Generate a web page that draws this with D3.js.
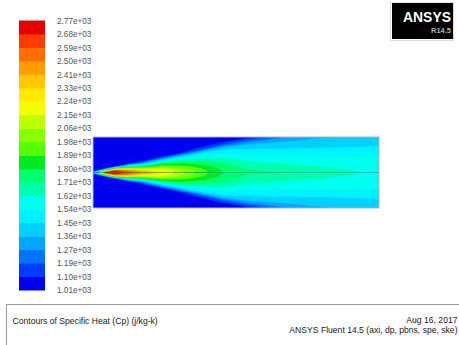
<!DOCTYPE html>
<html><head><meta charset="utf-8">
<script src="https://cdn.jsdelivr.net/npm/d3@7"></script>
<style>html,body{margin:0;padding:0;background:#fff;overflow:hidden}</style>
</head><body>
<script>
// ---- data ----
const levelLabels = ["1.01e+03","1.10e+03","1.19e+03","1.27e+03","1.36e+03","1.45e+03","1.54e+03",
  "1.62e+03","1.71e+03","1.80e+03","1.89e+03","1.98e+03","2.06e+03","2.15e+03","2.24e+03",
  "2.33e+03","2.41e+03","2.50e+03","2.59e+03","2.68e+03","2.77e+03"];
// axial stations (mm from inlet) and radial stations (mm from axis)
const xStations = [0, 5, 12, 22, 35, 50, 70, 90, 110, 130, 155, 185, 220, 255, 286];
const rStations = [0, 2, 4, 6, 9, 12, 16, 20, 24, 28, 32, 35.5];
// Cp (J/kg-K): one radial profile per axial station
const cpProfiles = [
  [1300,1050,1030,1030,1030,1030,1030,1030,1030,1030,1030,1030],
  [2000,1150,1030,1030,1030,1030,1030,1030,1030,1030,1030,1030],
  [2720,1900,1050,1030,1030,1030,1030,1030,1030,1030,1030,1030],
  [2760,2620,1850,1080,1030,1030,1030,1030,1030,1030,1030,1030],
  [2620,2500,2050,1620,1050,1030,1030,1030,1030,1030,1030,1030],
  [2450,2350,2050,1780,1350,1050,1030,1030,1030,1030,1030,1030],
  [2260,2220,2120,1970,1750,1480,1100,1030,1030,1030,1030,1030],
  [2070,2050,2000,1920,1800,1660,1450,1100,1030,1030,1030,1030],
  [1920,1910,1880,1840,1770,1680,1560,1440,1140,1030,1030,1030],
  [1800,1790,1770,1750,1710,1660,1590,1510,1420,1180,1030,1030],
  [1750,1712,1690,1670,1640,1610,1560,1500,1440,1360,1200,1070],
  [1720,1670,1650,1640,1622,1590,1550,1500,1450,1400,1330,1240],
  [1670,1640,1630,1622,1600,1580,1548,1500,1455,1420,1380,1340],
  [1630,1622,1615,1610,1590,1570,1546,1500,1460,1430,1400,1370],
  [1610,1605,1600,1595,1580,1560,1545,1510,1470,1440,1420,1400]
];
const titleText = "Contours of Specific Heat (Cp) (j/kg-k)";
const dateText = "Aug 16, 2017";
const solverText = "ANSYS Fluent 14.5 (axi, dp, pbns, spe, ske)";

// ---- style ----
const bandColors = ["#0000f0","#003cff","#0073ff","#00a6ff","#00d0ff","#00f2ff","#00ffee","#00ffaa",
  "#00ff6a","#00ea20","#55ff00","#88ff00","#bbff00","#f2ff00","#ffea00","#ffc800","#ff9d00",
  "#ff6e00","#ff3c00","#e60000"];
const FONT = "'Liberation Sans', Arial, Helvetica, sans-serif";

const W = 459, H = 345;
const svg = d3.select("body").append("svg").attr("width", W).attr("height", H)
  .style("display","block").style("background","#fff");

const thresholds = levelLabels.slice(0, 20).map(Number);

// ---- colour bar ----
const barX0 = 19, barX1 = 45;
const yIdx = d3.scaleLinear().domain([0, 20]).range([290, 20.5]);
svg.append("g").selectAll("rect").data(bandColors).join("rect")
  .attr("x", barX0).attr("width", barX1 - barX0)
  .attr("y", (d, i) => yIdx(i + 1)).attr("height", (d, i) => yIdx(i) - yIdx(i + 1) + 0.5)
  .attr("fill", d => d);
const barAxis = d3.axisRight(yIdx).tickValues(d3.range(21))
  .tickFormat(i => levelLabels[i]).tickSize(0).tickPadding(12);
const ga = svg.append("g").attr("transform", `translate(${barX1},0)`).call(barAxis);
ga.select(".domain").remove();
ga.selectAll("text").attr("font-family", FONT).attr("font-size", 8.2).attr("fill", "#555");

// ---- contour field ----
const nx = xStations.length, ny = rStations.length;
const values = new Array(nx * ny);
for (let i = 0; i < nx; i++) for (let j = 0; j < ny; j++) values[j * nx + i] = cpProfiles[i][j];

const xs = d3.scaleLinear().domain([0, 286]).range([93, 379]);
const rUp = d3.scaleLinear().domain([0, 35.5]).range([172.5, 137]);
const rDown = d3.scaleLinear().domain([0, 35.5]).range([172.5, 208]);
const gx = d3.scaleLinear().domain(xStations.map((d, i) => i + 0.5)).range(xStations).clamp(true);
const gr = d3.scaleLinear().domain(rStations.map((d, i) => i + 0.5)).range(rStations).clamp(true);

const contours = d3.contours().size([nx, ny]).thresholds(thresholds)(values);

svg.append("clipPath").attr("id", "dom").append("rect")
  .attr("x", 93).attr("y", 137).attr("width", 286).attr("height", 71);
const field = svg.append("g").attr("clip-path", "url(#dom)");
[rUp, rDown].forEach(rs => {
  const path = d3.geoPath(d3.geoTransform({
    point(x, y) { this.stream.point(xs(gx(x)), rs(gr(y))); }
  }));
  field.append("g").selectAll("path").data(contours).join("path")
    .attr("d", path)
    .attr("fill", (d, i) => bandColors[i])
    .attr("stroke", (d, i) => bandColors[i]).attr("stroke-width", 0.3);
});
// axis line
svg.append("line").attr("x1", xs(0)).attr("x2", xs(286)).attr("y1", rUp(0)).attr("y2", rUp(0))
  .attr("stroke", "rgba(0,90,110,0.45)").attr("stroke-width", 1);
// domain outline
svg.append("rect").attr("x", 93).attr("y", 137).attr("width", 286).attr("height", 71)
  .attr("fill", "none").attr("stroke", "#b0b0cc").attr("stroke-width", 1);

// ---- logo ----
svg.append("rect").attr("x", 390.5).attr("y", 2.5).attr("width", 63).attr("height", 38)
  .attr("fill", "none").attr("stroke", "#dcdcdc");
svg.append("rect").attr("x", 392).attr("y", 3).attr("width", 61).attr("height", 36).attr("fill", "#000");
svg.append("text").attr("x", 403).attr("y", 22).attr("font-family", FONT).attr("font-weight", "bold")
  .attr("font-size", 15).attr("fill", "#fff").attr("textLength", 48).attr("lengthAdjust", "spacingAndGlyphs")
  .text("ANSYS");
svg.append("text").attr("x", 451).attr("y", 33).attr("text-anchor", "end").attr("font-family", FONT)
  .attr("font-weight", "bold").attr("font-size", 7.5).attr("fill", "#b0b0b0").text("R14.5");

// ---- info box ----
svg.append("rect").attr("x", 6.5).attr("y", 304.5).attr("width", 470).attr("height", 60)
  .attr("fill", "none").attr("stroke", "#999").attr("stroke-width", 1);
svg.append("text").attr("x", 12.5).attr("y", 323.5).attr("font-family", FONT).attr("font-size", 8.6)
  .attr("fill", "#1a1a1a").text(titleText);
svg.append("text").attr("x", 457.5).attr("y", 322.5).attr("text-anchor", "end").attr("font-family", FONT)
  .attr("font-size", 8.6).attr("fill", "#1a1a1a").text(dateText);
svg.append("text").attr("x", 457.5).attr("y", 332.5).attr("text-anchor", "end").attr("font-family", FONT)
  .attr("font-size", 8.6).attr("fill", "#1a1a1a").text(solverText);
</script>
</body></html>
